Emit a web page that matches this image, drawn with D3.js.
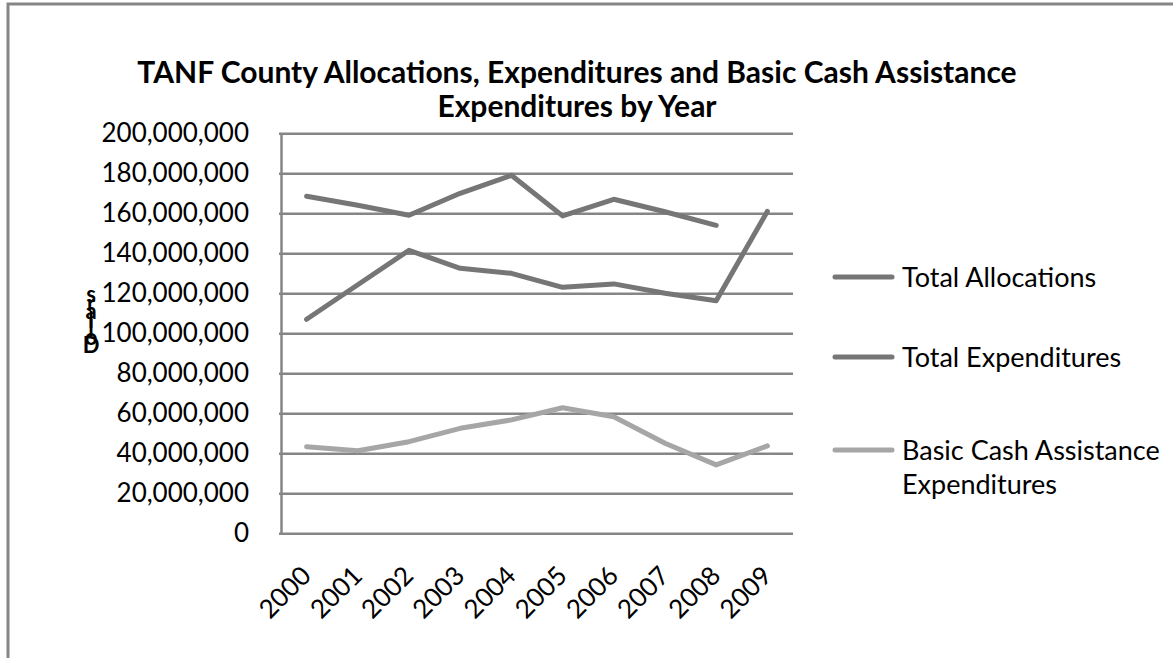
<!DOCTYPE html>
<html>
<head>
<meta charset="utf-8">
<script src="https://cdn.jsdelivr.net/npm/d3@7"></script>
<style>
  body { margin: 0; background: #fff; }
  svg { display: block; font-family: Lato, "Liberation Sans", sans-serif; }
</style>
</head>
<body>
<svg width="1173" height="658"></svg>
<script>
// Chart data
const years = ["2000", "2001", "2002", "2003", "2004", "2005", "2006", "2007", "2008", "2009"];
const totalAllocations = [168500000, 164000000, 159000000, 170000000, 179000000, 158700000, 167000000, 160800000, 154000000, null];
const totalExpenditures = [107000000, 124300000, 141500000, 132500000, 130000000, 123000000, 124700000, 120000000, 116300000, 161000000];
const basicCash = [43300000, 41300000, 45800000, 52500000, 56700000, 62800000, 58300000, 45000000, 34200000, 43700000];
const yTicks = [0, 20000000, 40000000, 60000000, 80000000, 100000000, 120000000, 140000000, 160000000, 180000000, 200000000];

const seriesNames = ["Total Allocations", "Total Expenditures", "Basic Cash Assistance Expenditures"];
const seriesColors = ["#767676", "#767676", "#a6a6a6"];

const svg = d3.select("svg");
const gridColor = "#868686";

// Outer border (top and left only)
svg.append("path")
    .attr("d", "M8,658 L8,4 L1173,4")
    .attr("fill", "none")
    .attr("stroke", gridColor)
    .attr("stroke-width", 3);

// Scales
const plotLeft = 281, plotRight = 793, plotTop = 133.3, plotBottom = 533.3;
const x = d3.scaleBand().domain(years).range([plotLeft, plotRight]).padding(0);
const y = d3.scaleLinear().domain([0, 200000000]).range([plotBottom, plotTop]);
const cx = d => x(d) + x.bandwidth() / 2;

// Title
svg.append("text")
    .attr("x", 577).attr("y", 83)
    .attr("text-anchor", "middle")
    .style("font-weight", "bold").style("font-size", "30px")
    .text("TANF County Allocations, Expenditures and Basic Cash Assistance");
svg.append("text")
    .attr("x", 577).attr("y", 117)
    .attr("text-anchor", "middle")
    .style("font-weight", "bold").style("font-size", "30px")
    .text("Expenditures by Year");

// Y axis with gridlines
const yAxis = svg.append("g")
    .attr("transform", `translate(${plotLeft},0)`)
    .call(d3.axisLeft(y).tickValues(yTicks).tickFormat(d3.format(","))
        .tickSizeInner(-(plotRight - plotLeft)).tickSizeOuter(0).tickPadding(32));
yAxis.select(".domain").attr("stroke", gridColor).attr("stroke-width", 2.5);
yAxis.selectAll(".tick line").attr("stroke", gridColor).attr("stroke-width", 2.5).attr("x1", -2);
yAxis.selectAll(".tick text")
    .attr("fill", "#000")
    .style("font-size", "26px")
    .style("font-family", "Lato, sans-serif");

// X axis labels
const xAxis = svg.append("g")
    .attr("transform", `translate(0,${plotBottom})`)
    .call(d3.axisBottom(x).tickSize(0).tickPadding(0));
xAxis.select(".domain").remove();
xAxis.selectAll(".tick text")
    .attr("fill", "#000")
    .style("font-size", "26px")
    .style("font-family", "Lato, sans-serif")
    .attr("text-anchor", "end")
    .attr("dy", null).attr("y", 0)
    .attr("transform", "translate(6,44) rotate(-45)");

// Y axis title: letters stacked on top of each other, as in the original
const yTitle = "Dollars".split("");
const yTitleText = svg.append("text")
    .attr("x", 91)
    .attr("y", 353)
    .attr("text-anchor", "middle")
    .style("font-weight", "bold").style("font-size", "22px");
yTitleText.selectAll("tspan")
    .data(yTitle)
    .join("tspan")
    .attr("x", 91)
    .attr("dy", (d, i) => i === 0 ? 0 : -8.5)
    .text(d => d);

// Lines
const line = d3.line()
    .defined(d => d.v != null)
    .x(d => cx(d.year))
    .y(d => y(d.v));

const allSeries = [totalAllocations, totalExpenditures, basicCash];
allSeries.forEach((vals, i) => {
    svg.append("path")
        .datum(years.map((yr, j) => ({ year: yr, v: vals[j] })))
        .attr("fill", "none")
        .attr("stroke", seriesColors[i])
        .attr("stroke-width", 5)
        .attr("stroke-linecap", "round")
        .attr("stroke-linejoin", "round")
        .attr("d", line);
});

// Legend
const legendY = [277, 357, 450];
const legend = svg.append("g");
seriesNames.forEach((name, i) => {
    legend.append("line")
        .attr("x1", 835).attr("x2", 892)
        .attr("y1", legendY[i]).attr("y2", legendY[i])
        .attr("stroke", seriesColors[i])
        .attr("stroke-width", 5)
        .attr("stroke-linecap", "round");
    const t = legend.append("text")
        .attr("x", 902).attr("y", legendY[i] + 10)
        .style("font-size", "27px");
    if (i === 2) {
        t.append("tspan").attr("x", 902).text("Basic Cash Assistance");
        t.append("tspan").attr("x", 902).attr("dy", 34).text("Expenditures");
    } else {
        t.text(name);
    }
});
</script>
</body>
</html>
